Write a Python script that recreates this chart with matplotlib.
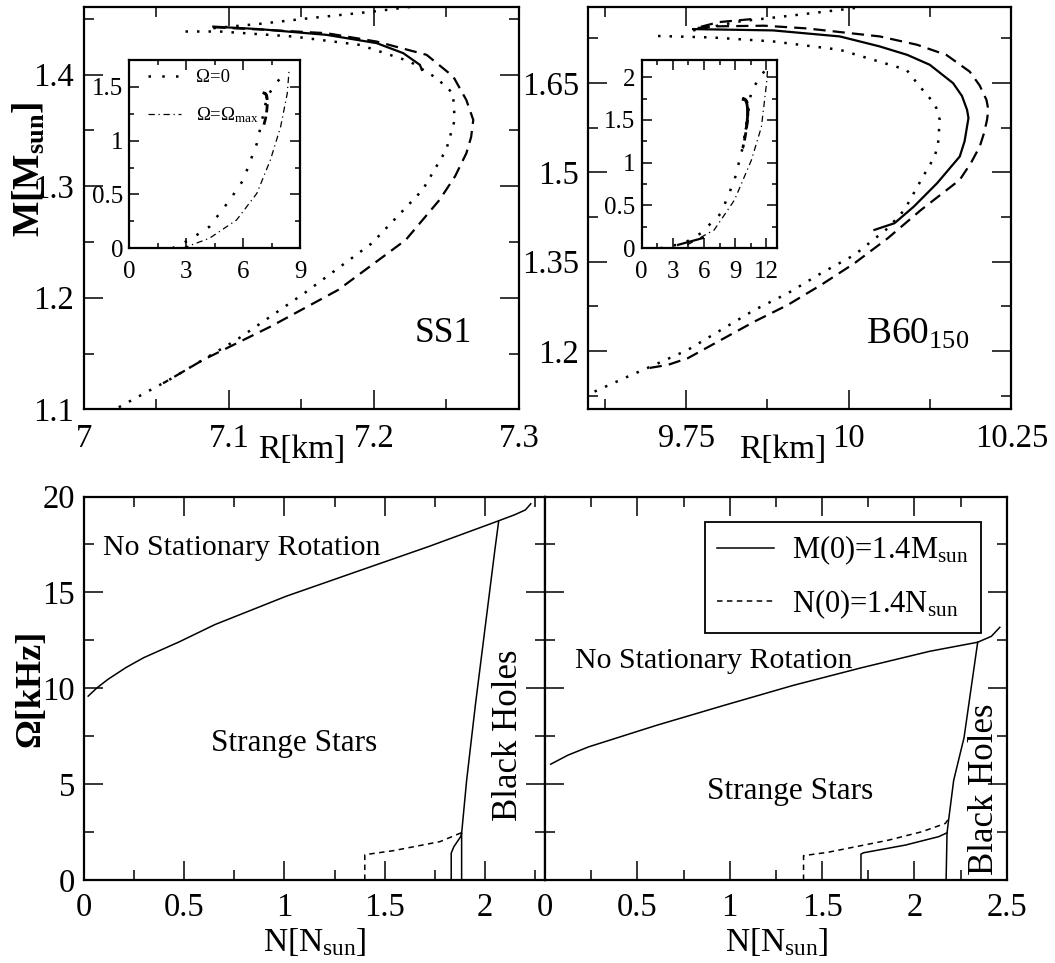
import matplotlib
matplotlib.use('Agg')
import matplotlib.pyplot as plt
from matplotlib.ticker import MultipleLocator, FuncFormatter

plt.rcParams['font.family'] = ['Liberation Serif', 'DejaVu Serif']
plt.rcParams['mathtext.fontset'] = 'custom'
plt.rcParams['mathtext.rm'] = 'Liberation Serif'
plt.rcParams['mathtext.it'] = 'Liberation Serif:italic'
plt.rcParams['mathtext.bf'] = 'Liberation Serif:bold'
plt.rcParams['axes.linewidth'] = 1.6

# ---------------- SS1 : M(R) ----------------
ss1_dot_r = [7.024, 7.0586, 7.1052, 7.1519, 7.1985, 7.2335, 7.2498, 7.2557, 7.2545,
             7.2432, 7.2248, 7.1903, 7.1444, 7.0938, 7.0662]
ss1_dot_m = [1.1018, 1.1263, 1.1622, 1.204, 1.2488, 1.2966, 1.3325, 1.3594, 1.3833,
             1.3969, 1.4118, 1.4267, 1.4342, 1.4387, 1.4387]
ss1_shed_r = [7.0892, 7.1214, 7.1559, 7.1995, 7.2271, 7.26]
ss1_shed_m = [1.4417, 1.4456, 1.4507, 1.4566, 1.4611, 1.465]
ss1_mfix_r = [7.0892, 7.1214, 7.1673, 7.2018, 7.2202, 7.2317, 7.233]
ss1_mfix_m = [1.4431, 1.4408, 1.4357, 1.4283, 1.4193, 1.4088, 1.4043]
ss1_nfix_r = [7.0892, 7.1214, 7.1673, 7.2018, 7.2363, 7.2547, 7.2637, 7.2685, 7.267,
              7.2637, 7.256, 7.2452, 7.2219, 7.1753, 7.1286, 7.082, 7.0586, 7.0545]
ss1_nfix_m = [1.4425, 1.4405, 1.4372, 1.4297, 1.4178, 1.3983, 1.3773, 1.3594, 1.344,
              1.3295, 1.309, 1.2877, 1.2518, 1.207, 1.1741, 1.1442, 1.1263, 1.1233]
# inset: whole sequences
ss1_stat_r = [2.26, 3.15, 4.22, 5.29, 6.0, 6.72, 7.07, 7.25, 7.6, 7.97]
ss1_stat_m = [0.0, 0.077, 0.201, 0.449, 0.634, 0.975, 1.253, 1.408, 1.5, 1.587]
ss1_omax_r = [2.8, 4.22, 5.65, 6.72, 7.43, 7.97, 8.32, 8.41, 8.3]
ss1_omax_m = [0.0, 0.093, 0.263, 0.511, 0.82, 1.129, 1.439, 1.64, 1.66]

# ---------------- B60_150 : M(R) ----------------
b60_dot_r = [9.6093, 9.6604, 9.7014, 9.7526, 9.8038, 9.8551, 9.9063, 9.9575, 10.0088,
             10.06, 10.0856, 10.1142, 10.1322, 10.1373, 10.1398, 10.1347, 10.1245,
             10.1091, 10.0887, 9.9862, 9.8837, 9.789, 9.694]
b60_dot_m = [1.1317, 1.1569, 1.1765, 1.2017, 1.2353, 1.2688, 1.2968, 1.3304, 1.3612,
             1.406, 1.4368, 1.4928, 1.5264, 1.5488, 1.588, 1.6076, 1.6244,
             1.644, 1.672, 1.7056, 1.7196, 1.7263, 1.7291]
b60_shed_r = [9.7608, 9.8325, 9.9093, 9.9965, 10.0272, 10.05]
b60_shed_m = [1.7381, 1.7532, 1.7627, 1.7739, 1.7784, 1.782]
b60_mfix_r = [9.7608, 9.8837, 9.9862, 10.0476, 10.09, 10.1245, 10.1603, 10.174, 10.1818,
              10.184, 10.1818, 10.178, 10.1706, 10.1357, 10.1, 10.0703, 10.0395]
b60_mfix_m = [1.7403, 1.7381, 1.728, 1.7112, 1.697, 1.6804, 1.6496, 1.628, 1.6048,
              1.591, 1.5768, 1.552, 1.5264, 1.4815, 1.4423, 1.4144, 1.4032]
b60_nfix_r = [9.85, 9.80, 9.765, 9.80, 9.87, 9.935, 10.0476, 10.105, 10.1501, 10.1859,
              10.201, 10.2116, 10.2145, 10.2125, 10.208, 10.2013, 10.188, 10.1706,
              10.1112, 10.06, 10.0088, 9.9575, 9.9063, 9.8551, 9.8038, 9.7526, 9.7219,
              9.6912]
b60_nfix_m = [1.757, 1.752, 1.742, 1.745, 1.746, 1.7415, 1.728, 1.714, 1.6969, 1.6689,
              1.646, 1.6216, 1.605, 1.588, 1.566, 1.5432, 1.516, 1.4872,
              1.4368, 1.3892, 1.3472, 1.3108, 1.2772, 1.2493, 1.2185, 1.1877, 1.1765,
              1.1709]
b60_stat_r = [1.78, 4.06, 5.68, 7.62, 8.92, 9.73, 10.55, 11.84]
b60_stat_m = [0.0, 0.058, 0.175, 0.408, 0.796, 1.185, 1.845, 2.078]
b60_omax_r = [4.38, 6.97, 8.92, 10.55, 11.51, 12.0, 12.1]
b60_omax_m = [0.039, 0.214, 0.563, 1.03, 1.418, 1.923, 2.078]
b60_low_r = [3.5, 5.9]
b60_low_m = [0.04, 0.12]

# ---------------- Omega(N) ----------------
ss1_lim_n = [0.021, 0.066, 0.119, 0.208, 0.297, 0.475, 0.653, 1.009, 1.365, 1.722,
             2.06, 2.149, 2.202, 2.229]
ss1_lim_f = [9.59, 10.03, 10.46, 11.07, 11.59, 12.42, 13.32, 14.8, 16.1, 17.4,
             18.7, 19.05, 19.3, 19.62]
ss1_bh_n = [1.884, 1.884, 1.909, 1.953, 2.051, 2.069]
ss1_bh_f = [0.0, 2.43, 5.2, 9.16, 17.31, 18.73]
ss1_m14_n = [1.832, 1.832, 1.845, 1.879, 1.884]
ss1_m14_f = [0.0, 1.4, 1.73, 2.26, 2.43]
ss1_n14_n = [1.401, 1.401, 1.544, 1.776, 1.884]
ss1_n14_f = [0.0, 1.32, 1.53, 2.0, 2.47]

b60_lim_n = [0.031, 0.124, 0.235, 0.605, 0.974, 1.344, 1.714, 2.084, 2.343, 2.417, 2.463]
b60_lim_f = [6.04, 6.51, 6.94, 8.07, 9.12, 10.15, 11.07, 11.93, 12.40, 12.71, 13.18]
b60_bh_n = [2.172, 2.177, 2.186, 2.213, 2.269, 2.343]
b60_bh_f = [0.0, 2.46, 3.16, 5.2, 7.42, 12.40]
b60_m14_n = [1.711, 1.711, 1.725, 1.951, 2.132, 2.177]
b60_m14_f = [0.0, 1.35, 1.42, 1.82, 2.26, 2.46]
b60_n14_n = [1.4, 1.4, 1.529, 1.68, 1.861, 2.042, 2.168, 2.183]
b60_n14_f = [0.0, 1.27, 1.44, 1.73, 2.08, 2.52, 2.95, 3.16]

DOT = (0, (1, 3.6))
IDOT = (0, (1, 4.5))
DASH = (0, (5.5, 3.2))
DASHDOT = (0, (5, 3, 1, 3))
THINDASH = (0, (3.6, 2.9))


def fmt(v, pos):
    return '%g' % round(v, 4)


def setup(ax, xmaj, xmin, ymaj, ymin, size, majlen, minlen, xpad, ypad):
    ax.xaxis.set_major_locator(MultipleLocator(xmaj))
    ax.xaxis.set_minor_locator(MultipleLocator(xmin))
    ax.yaxis.set_major_locator(MultipleLocator(ymaj))
    ax.yaxis.set_minor_locator(MultipleLocator(ymin))
    ax.xaxis.set_major_formatter(FuncFormatter(fmt))
    ax.yaxis.set_major_formatter(FuncFormatter(fmt))
    ax.tick_params(which='both', direction='in', top=True, right=True, width=1.1)
    ax.tick_params(which='major', length=majlen, labelsize=size)
    ax.tick_params(which='minor', length=minlen)
    ax.tick_params(axis='x', pad=xpad)
    ax.tick_params(axis='y', pad=ypad)


fig = plt.figure(figsize=(10.55, 9.63), dpi=100)

# ---- top left: SS1
ax1 = fig.add_axes([0.0796, 0.5750, 0.4123, 0.4181])
ax1.plot(ss1_dot_r, ss1_dot_m, color='k', lw=1.8, ls=DOT)
ax1.plot(ss1_shed_r, ss1_shed_m, color='k', lw=1.8, ls=DOT)
ax1.plot(ss1_mfix_r, ss1_mfix_m, color='k', lw=1.6)
ax1.plot(ss1_nfix_r, ss1_nfix_m, color='k', lw=1.6, ls=DASH)
ax1.set_xlim(7, 7.3)
ax1.set_ylim(1.1, 1.461)
setup(ax1, 0.1, 0.05, 0.1, 0.05, 23.5, 14, 7, 10.5, 7)
ax1.set_xlabel('R[km]', fontsize=24)
ax1.xaxis.set_label_coords(0.5, -0.121)
ax1.xaxis.label.set_va('baseline')
ax1.set_ylabel(r'M[M$_{\mathbf{sun}}$]', fontsize=27, fontweight='bold')
ax1.yaxis.set_label_coords(-0.126, 0.597)
ax1.yaxis.label.set_va('center')
ax1.text(7.2277, 1.1606, 'SS1', fontsize=25.5)

ins1 = fig.add_axes([0.1227, 0.7422, 0.1618, 0.1955])
ins1.plot(ss1_stat_r, ss1_stat_m, color='k', lw=1.8, ls=IDOT, label='Ω=0')
ins1.plot(ss1_omax_r, ss1_omax_m, color='k', lw=0.9, ls=DASHDOT,
          label=r'Ω=Ω$_{\rm max}$')
ins1.plot(ss1_mfix_r, ss1_mfix_m, color='k', lw=2.0)
ins1.plot(ss1_nfix_r, ss1_nfix_m, color='k', lw=2.0, ls=(0, (3, 1.5)))
ins1.set_xlim(0, 9)
ins1.set_ylim(0, 1.75)
setup(ins1, 3, 1.5, 0.5, 0.25, 18, 7, 3.6, 9.5, 4.5)
ins1.legend(loc='upper left', bbox_to_anchor=(0.0, 1.05), frameon=False, fontsize=13.5,
            handlelength=1.75, handletextpad=0.8, labelspacing=1.0, borderpad=0.5)

# ---- top right: B60_150
ax2 = fig.add_axes([0.5578, 0.5750, 0.4009, 0.4181])
ax2.plot(b60_dot_r, b60_dot_m, color='k', lw=1.8, ls=DOT)
ax2.plot(b60_shed_r, b60_shed_m, color='k', lw=1.8, ls=DOT)
ax2.plot(b60_mfix_r, b60_mfix_m, color='k', lw=1.6)
ax2.plot(b60_nfix_r, b60_nfix_m, color='k', lw=1.6, ls=DASH)
ax2.set_xlim(9.6, 10.25)
ax2.set_ylim(1.102, 1.778)
setup(ax2, 0.25, 0.125, 0.15, 0.075, 23.5, 14, 7, 10.5, 7)
ax2.set_xlabel('R[km]', fontsize=24)
ax2.xaxis.set_label_coords(0.458, -0.121)
ax2.xaxis.label.set_va('baseline')
ax2.text(10.0266, 1.2129, r'B60$_{150}$', fontsize=27)

ins2 = fig.add_axes([0.6082, 0.7422, 0.1282, 0.1955])
ins2.plot(b60_stat_r, b60_stat_m, color='k', lw=1.8, ls=IDOT)
ins2.plot(b60_omax_r, b60_omax_m, color='k', lw=0.9, ls=DASHDOT)
ins2.plot(b60_mfix_r, b60_mfix_m, color='k', lw=2.0)
ins2.plot(b60_nfix_r, b60_nfix_m, color='k', lw=2.0, ls=(0, (3, 1.5)))
ins2.plot(b60_low_r, b60_low_m, color='k', lw=1.6)
ins2.set_xlim(0, 13)
ins2.set_ylim(0, 2.2)
setup(ins2, 3, 1.5, 0.5, 0.25, 18, 7, 3.6, 9.5, 4.5)

# ---- bottom left: Omega(N) SS1
ax3 = fig.add_axes([0.0796, 0.0862, 0.4370, 0.3982])
ax3.plot(ss1_lim_n, ss1_lim_f, color='k', lw=1.1)
ax3.plot(ss1_bh_n, ss1_bh_f, color='k', lw=1.1)
ax3.plot(ss1_m14_n, ss1_m14_f, color='k', lw=1.1)
ax3.plot(ss1_n14_n, ss1_n14_f, color='k', lw=1.1, ls=THINDASH)
ax3.set_xlim(0, 2.3)
ax3.set_ylim(0, 20)
setup(ax3, 0.5, 0.25, 5, 2.5, 23.5, 14, 7, 9, 6.5)
ax3.set_xlabel(r'N[N$_{\rm sun}$]', fontsize=24)
ax3.xaxis.set_label_coords(0.501, -0.185)
ax3.xaxis.label.set_va('baseline')
ax3.set_ylabel('Ω[kHz]', fontsize=26, fontweight='bold')
ax3.yaxis.set_label_coords(-0.115, 0.50)
ax3.yaxis.label.set_va('center')
ax3.text(0.093, 16.96, 'No Stationary Rotation', fontsize=21.5)
ax3.text(0.636, 6.73, 'Strange Stars', fontsize=22.5)
ax3.text(2.12, 3.1, 'Black Holes', fontsize=25, rotation=90, ha='center', va='bottom')

# ---- bottom right: Omega(N) B60
ax4 = fig.add_axes([0.5166, 0.0862, 0.4376, 0.3982])
ax4.plot(b60_lim_n, b60_lim_f, color='k', lw=1.1)
ax4.plot(b60_bh_n, b60_bh_f, color='k', lw=1.1)
ax4.plot(b60_m14_n, b60_m14_f, color='k', lw=1.1, label=r'M(0)=1.4M$_{\rm sun}$')
ax4.plot(b60_n14_n, b60_n14_f, color='k', lw=1.1, ls=THINDASH,
         label=r'N(0)=1.4N$_{\rm sun}$')
ax4.set_xlim(0, 2.5)
ax4.set_ylim(0, 20)
setup(ax4, 0.5, 0.25, 5, 2.5, 23.5, 14, 7, 9, 6.5)
ax4.tick_params(labelleft=False)
ax4.set_xlabel(r'N[N$_{\rm sun}$]', fontsize=24)
ax4.xaxis.set_label_coords(0.502, -0.185)
ax4.xaxis.label.set_va('baseline')
ax4.text(0.161, 11.07, 'No Stationary Rotation', fontsize=21.5)
ax4.text(0.878, 4.21, 'Strange Stars', fontsize=22.5)
ax4.text(2.38, 0.26, 'Black Holes', fontsize=25, rotation=90, ha='center', va='bottom')
leg = ax4.legend(loc='upper right', bbox_to_anchor=(0.944, 0.9346), fontsize=22,
                 fancybox=False, edgecolor='k', framealpha=1, handlelength=1.85,
                 handletextpad=0.6, labelspacing=0.65, borderpad=0.4, borderaxespad=0)
leg.get_frame().set_linewidth(1.3)

fig.savefig('out.png', dpi=100)
